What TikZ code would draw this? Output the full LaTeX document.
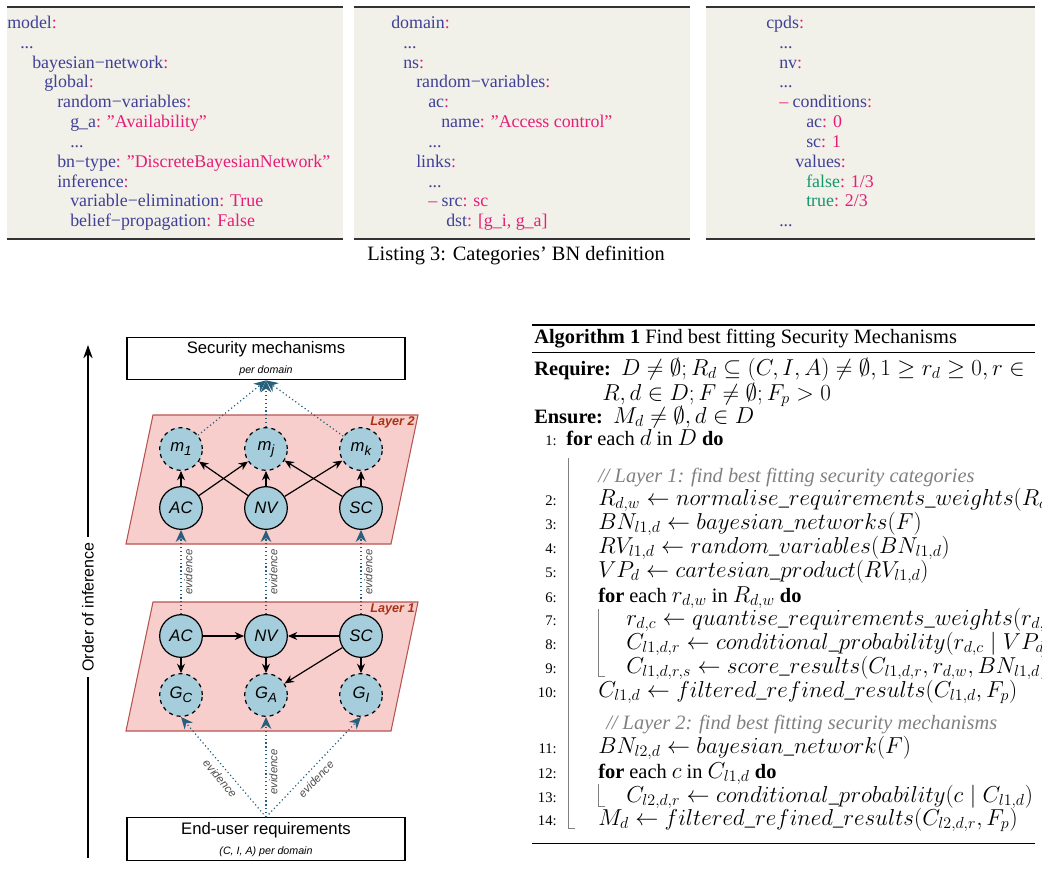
\documentclass[tikz,border=0pt]{standalone}
\usepackage{fontspec}
\setmainfont{Liberation Serif}
\setsansfont{Liberation Sans}
\usetikzlibrary{arrows.meta}
\DeclareMathSizes{15.3}{17.6}{12.5}{10}
\definecolor{kc}{RGB}{64,64,150}
\definecolor{vc}{RGB}{230,30,120}
\definecolor{gc}{RGB}{20,150,110}
\definecolor{bgc}{RGB}{241,240,233}
\definecolor{nodefill}{RGB}{166,205,220}
\definecolor{layerfill}{RGB}{248,206,204}
\definecolor{layerdraw}{RGB}{184,84,80}
\definecolor{laytext}{RGB}{170,50,20}
\definecolor{evc}{RGB}{40,95,125}
\newcommand\lk[1]{\textcolor{kc}{#1}}
\newcommand\lv[1]{\textcolor{vc}{#1}}
\newcommand\lgr[1]{\textcolor{gc}{#1}}
\newcommand\nsub[1]{\raisebox{-3pt}{\fontsize{10}{10}\selectfont #1}}
\begin{document}
\begin{tikzpicture}[x=0.75pt,y=-0.75pt,
  lst/.style={font=\fontsize{13.4}{15}\selectfont,inner sep=0,anchor=base west},
  alg/.style={font=\fontsize{15.3}{18}\selectfont,inner sep=0,anchor=base west},
  num/.style={font=\fontsize{11}{12}\selectfont,inner sep=0,anchor=base east},
  rv/.style={circle,draw,fill=nodefill,minimum size=32pt,inner sep=0,line width=0.9pt,font=\sffamily\itshape\fontsize{12.5}{14}\selectfont},
  hid/.style={rv,dashed},
  arr/.style={-{Stealth[length=7pt,width=6pt]},line width=0.9pt},
  ev/.style={evc,dotted,line width=0.9pt,-{Stealth[length=9pt,width=8pt]}},
  evl/.style={font=\sffamily\itshape\fontsize{8.5}{10}\selectfont,text=black!70,inner sep=2pt},
  layer/.style={fill=layerfill,draw=layerdraw,line width=0.8pt},
  laylab/.style={font=\sffamily\bfseries\itshape\fontsize{9.5}{11}\selectfont,text=laytext,anchor=east,inner sep=0},
  bigbox/.style={draw,line width=0.8pt,minimum width=208.5pt,minimum height=32pt,inner sep=0},
  cmt/.style={alg,text=gray,font=\fontsize{15.3}{18}\selectfont\itshape},
  bar/.style={gray,line width=0.5pt}]
\useasboundingbox (0,0) rectangle (1042,889);
% listings
\foreach \a/\b in {7/343,354/690,706/1035}{
  \fill[bgc] (\a,7) rectangle (\b,239);
  \draw[line width=0.9pt,black!80] (\a,7)--(\b,7) (\a,239)--(\b,239);}
\foreach \x/\y/\t [count=\i] in {
 7/28/{\lk{model}\lv{:}}, 20/48/{\lk{...}}, 32/68/{\lk{bayesian−network}\lv{:}},
 44/87/{\lk{global}\lv{:}}, 57/107/{\lk{random−variables}\lv{:}},
 70/127/{\lk{g\_a}\lv{: ”Availability”}}, 70/147/{\lk{...}},
 57/167/{\lk{bn−type}\lv{: ”DiscreteBayesianNetwork”}}, 57/187/{\lk{inference}\lv{:}},
 70/206/{\lk{variable−elimination}\lv{: True}}, 70/226/{\lk{belief−propagation}\lv{: False}},
 391/28/{\lk{domain}\lv{:}}, 403/48/{\lk{...}}, 403/68/{\lk{ns}\lv{:}},
 416/87/{\lk{random−variables}\lv{:}}, 428/107/{\lk{ac}\lv{:}},
 441/127/{\lk{name}\lv{: ”Access control”}}, 428/147/{\lk{...}}, 416/167/{\lk{links}\lv{:}},
 428/187/{\lk{...}}, 428/206/{\lv{– }\lk{src}\lv{: sc}}, 446/226/{\lk{dst}\lv{: [g\_i, g\_a]}},
 766/28/{\lk{cpds}\lv{:}}, 779/48/{\lk{...}}, 779/68/{\lk{nv}\lv{:}}, 779/87/{\lk{...}},
 779/107/{\lv{– }\lk{conditions}\lv{:}}, 806/127/{\lk{ac}\lv{: 0}}, 806/147/{\lk{sc}\lv{: 1}},
 795/167/{\lk{values}\lv{:}}, 806/187/{\lgr{false}\lv{: 1/3}}, 806/206/{\lgr{true}\lv{: 2/3}},
 779/226/{\lk{...}}}
 \node[lst] (lst\i) at (\x,\y) {\t};
\node[font=\fontsize{15.3}{17}\selectfont,inner sep=0] (cap) at (516,256) {Listing 3: Categories’ BN definition};
% order of inference
\coordinate (oib) at (88,858); \coordinate (oit) at (88,345);
\draw[-{Stealth[length=10pt,width=7pt]},line width=1pt] (oib) -- (oit);
\node[fill=white,rotate=90,font=\sffamily\fontsize{12}{14}\selectfont,inner sep=4pt] (oil) at (88,607) {Order of inference};
% boxes
\node[bigbox] (sec) at (266,358.5) {};
\node[font=\sffamily\fontsize{12.5}{14}\selectfont,inner sep=0] (sect) at (266,349) {Security mechanisms};
\node[font=\sffamily\itshape\fontsize{8}{9}\selectfont,inner sep=0] (secs) at (266,371) {per domain};
\node[bigbox] (eu) at (266,839) {};
\node[font=\sffamily\fontsize{12.5}{14}\selectfont,inner sep=0] (eut) at (266,830) {End-user requirements};
\node[font=\sffamily\itshape\fontsize{8}{9}\selectfont,inner sep=0] (eus) at (266,852) {(C, I, A) per domain};
% layers
\draw[layer] (153,415)--(418,415)--(391,544)--(126,544)--cycle;
\node[laylab] (lay2) at (415,422) {Layer 2};
\draw[layer] (153,602)--(418,602)--(391,731)--(126,731)--cycle;
\node[laylab] (lay1) at (415,609) {Layer 1};
% layer 2 nodes
\node[hid] (m1) at (181,449) {m\nsub{1}};
\node[hid] (mj) at (266,449) {m\nsub{j}};
\node[hid] (mk) at (361,449) {m\nsub{k}};
\node[rv] (ac2) at (181,508) {AC};
\node[rv] (nv2) at (266,508) {NV};
\node[rv] (sc2) at (361,508) {SC};
\draw[arr] (ac2)--(m1); \draw[arr] (nv2)--(mj); \draw[arr] (sc2)--(mk);
\draw[arr] (ac2)--(mj); \draw[arr] (nv2)--(m1); \draw[arr] (nv2)--(mk); \draw[arr] (sc2)--(mj);
\draw[ev] (m1)--(sec.south); \draw[ev] (mj)--(sec.south); \draw[ev] (mk)--(sec.south);
% layer 1 nodes
\node[rv] (ac1) at (181,636) {AC};
\node[rv] (nv1) at (266,636) {NV};
\node[rv] (sc1) at (361,636) {SC};
\node[hid] (gcn) at (181,695) {G\nsub{C}};
\node[hid] (gan) at (266,695) {G\nsub{A}};
\node[hid] (gin) at (361,695) {G\nsub{I}};
\draw[arr] (ac1)--(nv1); \draw[arr] (sc1)--(nv1); \draw[arr] (ac1)--(gcn);
\draw[arr] (nv1)--(gan); \draw[arr] (sc1)--(gan); \draw[arr] (sc1)--(gin);
% evidence
\draw[ev] (ac1.north)--(ac2.south) node[evl,midway,rotate=90,anchor=north] (e1) {evidence};
\draw[ev] (nv1.north)--(nv2.south) node[evl,midway,rotate=90,anchor=north] (e2) {evidence};
\draw[ev] (sc1.north)--(sc2.south) node[evl,midway,rotate=90,anchor=north] (e3) {evidence};
\draw[ev] (eu.north)--(gcn.south) node[evl,pos=0.45,sloped,below=2pt] (e4) {evidence};
\draw[ev] (eu.north)--(gan.south) node[evl,pos=0.45,rotate=90,anchor=north] (e5) {evidence};
\draw[ev] (eu.north)--(gin.south) node[evl,pos=0.45,sloped,below=2pt] (e6) {evidence};
% algorithm
\draw[line width=1pt] (532,325)--(1035,325);
\draw[line width=0.6pt] (532,352)--(1035,352);
\draw[line width=0.6pt] (532,843)--(1035,843);
\node[alg] (at) at (534,343) {\textbf{Algorithm 1} Find best fitting Security Mechanisms};
\node[alg] (rq1) at (534,375) {\textbf{Require:}\ \ $D \neq \emptyset; R_d \subseteq (C,I,A) \neq \emptyset, 1 \geq r_d \geq 0, r \in$};
\node[alg] (rq2) at (602,400) {$R, d\in D; F\neq\emptyset; F_p>0$};
\node[alg] (en) at (534,423) {\textbf{Ensure:}\ \ $M_d \neq\emptyset, d\in D$};
\foreach \n/\y in {1/445,2/505,3/529,4/553,5/577,6/602,7/625,8/649,9/673,10/697,11/753,12/778,13/802,14/825}
  \node[num] (n\n) at (557,\y) {\n:};
\node[alg] (a1) at (566,445) {\textbf{for} each $d$ in $D$ \textbf{do}};
\node[cmt] (c1) at (598,482) {// Layer 1: find best fitting security categories};
\node[alg] (a2) at (598,505) {$R_{d,w} \leftarrow normalise\_requirements\_weights(R_d)$};
\node[alg] (a3) at (598,529) {$BN_{l1,d} \leftarrow bayesian\_networks(F)$};
\node[alg] (a4) at (598,553) {$RV_{l1,d} \leftarrow random\_variables(BN_{l1,d})$};
\node[alg] (a5) at (598,577) {$VP_d \leftarrow cartesian\_product(RV_{l1,d})$};
\node[alg] (a6) at (598,602) {\textbf{for} each $r_{d,w}$ in $R_{d,w}$ \textbf{do}};
\node[alg] (a7) at (626,625) {$r_{d,c}\leftarrow quantise\_requirements\_weights(r_{d,w})$};
\node[alg] (a8) at (626,649) {$C_{l1,d,r}\leftarrow conditional\_probability(r_{d,c}\mid VP_d)$};
\node[alg] (a9) at (626,673) {$C_{l1,d,r,s}\leftarrow score\_results(C_{l1,d,r}, r_{d,w}, BN_{l1,d})$};
\node[alg] (a10) at (598,697) {$C_{l1,d}\leftarrow filtered\_refined\_results(C_{l1,d},F_p)$};
\node[cmt] (c2) at (606,729) {// Layer 2: find best fitting security mechanisms};
\node[alg] (a11) at (598,753) {$BN_{l2,d}\leftarrow bayesian\_network(F)$};
\node[alg] (a12) at (598,778) {\textbf{for} each $c$ in $C_{l1,d}$ \textbf{do}};
\node[alg] (a13) at (626,802) {$C_{l2,d,r}\leftarrow conditional\_probability(c\mid C_{l1,d})$};
\node[alg] (a14) at (598,825) {$M_d \leftarrow filtered\_refined\_results(C_{l2,d,r},F_p)$};
\draw[bar] (568,458)--(568,828)--(575,828);
\draw[bar] (598,609)--(598,676)--(605,676);
\draw[bar] (598,784)--(598,806)--(605,806);
\end{tikzpicture}
\end{document}
